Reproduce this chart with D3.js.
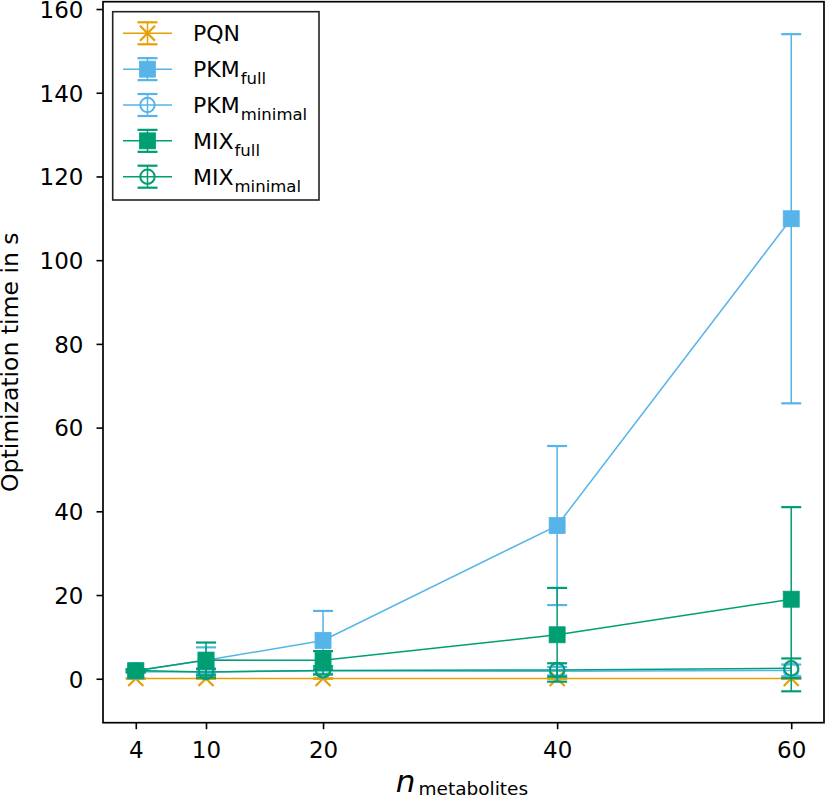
<!DOCTYPE html>
<html><head><meta charset="utf-8">
<script src="https://cdn.jsdelivr.net/npm/d3@7"></script>
<style>
body{margin:0;background:#fff}
svg{display:block}
text{font-family:"DejaVu Sans",sans-serif;fill:#000}
</style>
</head><body>
<svg id="chart" width="825" height="798"></svg>
<script>
// ---- data ----
const xValues = [4, 10, 20, 40, 60];
const xTicks = [4, 10, 20, 40, 60];
const yTicks = [0, 20, 40, 60, 80, 100, 120, 140, 160];

const pqnMean = [0.05, 0.05, 0.05, 0.05, 0.05];
const pqnErr  = [0.02, 0.02, 0.02, 0.02, 0.02];
const pkmFullMean = [1.9, 4.4, 9.15, 36.6, 109.9];
const pkmFullErr  = [0.3, 3.1, 7.05, 19.0, 44.1];
const pkmMinMean = [1.7, 1.6, 1.9, 1.8, 2.0];
const pkmMinErr  = [0.3, 0.6, 0.7, 1.0, 1.4];
const mixFullMean = [1.9, 4.45, 4.4, 10.5, 19.0];
const mixFullErr  = [0.3, 4.2, 2.2, 11.2, 22.0];
const mixMinMean = [2.0, 1.6, 2.0, 2.1, 2.5];
const mixMinErr  = [0.3, 0.8, 1.0, 1.6, 2.35];

const seriesBase = ["PQN", "PKM", "PKM", "MIX", "MIX"];
const seriesSub  = ["", "full", "minimal", "full", "minimal"];
const seriesColor = ["#E69F00", "#56B4E9", "#56B4E9", "#009E73", "#009E73"];
const seriesMarker = ["x", "square", "circle", "square", "circle"];
const seriesMeans = [pqnMean, pkmFullMean, pkmMinMean, mixFullMean, mixMinMean];
const seriesErrs = [pqnErr, pkmFullErr, pkmMinErr, mixFullErr, mixMinErr];

const xLabelMain = "n";
const xLabelSub = "metabolites";
const yLabel = "Optimization time in s";

// ---- layout ----
const L = 103, R = 824, T = 1.7, B = 722.7;
const x = d3.scaleLinear().domain([1.2, 62.8]).range([L, R]);
const y = d3.scaleLinear().domain([-10.5, 161.75]).range([B, T]);

const svg = d3.select("#chart");

const series = seriesBase.map((b, i) => ({
  base: b, sub: seriesSub[i], color: seriesColor[i], marker: seriesMarker[i],
  pts: xValues.map((xv, j) => ({x: xv, y: seriesMeans[i][j], e: seriesErrs[i][j]}))
}));

function drawMarker(g, type, cx, cy, color) {
  if (type === "square") {
    g.append("rect").attr("x", cx - 8).attr("y", cy - 8).attr("width", 16).attr("height", 16)
      .attr("fill", color).attr("stroke", color).attr("stroke-width", 0.8);
  } else if (type === "circle") {
    g.append("circle").attr("cx", cx).attr("cy", cy).attr("r", 7.2)
      .attr("fill", "none").attr("stroke", color).attr("stroke-width", 2);
  } else {
    const s = 7.5;
    g.append("path").attr("d", `M${cx-s},${cy-s}L${cx+s},${cy+s}M${cx-s},${cy+s}L${cx+s},${cy-s}`)
      .attr("stroke", color).attr("stroke-width", 2.2).attr("fill", "none");
  }
}

const plot = svg.append("g");
const line = d3.line().x(d => x(d.x)).y(d => y(d.y));

series.forEach(s => {
  const g = plot.append("g");
  s.pts.forEach(p => {
    const cx = x(p.x), y1 = y(p.y + p.e), y2 = y(p.y - p.e);
    g.append("line").attr("x1", cx).attr("x2", cx).attr("y1", y1).attr("y2", y2)
      .attr("stroke", s.color).attr("stroke-width", 1.5);
    [y1, y2].forEach(yy => g.append("line").attr("x1", cx - 10).attr("x2", cx + 10)
      .attr("y1", yy).attr("y2", yy).attr("stroke", s.color).attr("stroke-width", 2.2));
  });
  g.append("path").datum(s.pts).attr("d", line).attr("fill", "none")
    .attr("stroke", s.color).attr("stroke-width", 1.5);
  s.pts.forEach(p => drawMarker(g, s.marker, x(p.x), y(p.y), s.color));
});

// axes
const TF = 23;
const yAxis = d3.axisLeft(y).tickValues(yTicks).tickSize(6.5).tickPadding(13).tickFormat(d3.format("d"));
const gy = svg.append("g").attr("transform", `translate(${L},0)`).call(yAxis);
gy.select(".domain").remove();
gy.selectAll(".tick line").attr("stroke", "#000").attr("stroke-width", 1.6);
gy.selectAll(".tick text").attr("font-size", TF).attr("dy", "0.36em").attr("fill", "#000")
  .attr("font-family", "DejaVu Sans");

const xAxis = d3.axisBottom(x).tickValues(xTicks).tickSize(6.5).tickPadding(12.8).tickFormat(d3.format("d"));
const gx = svg.append("g").attr("transform", `translate(0,${B})`).call(xAxis);
gx.select(".domain").remove();
gx.selectAll(".tick line").attr("stroke", "#000").attr("stroke-width", 1.6);
gx.selectAll(".tick text").attr("font-size", TF).attr("fill", "#000").attr("font-family", "DejaVu Sans");

// frame
svg.append("rect").attr("x", L).attr("y", T).attr("width", R - L).attr("height", B - T)
  .attr("fill", "none").attr("stroke", "#000").attr("stroke-width", 1.7);

// axis labels
svg.append("text").attr("transform", `translate(18,${(T + B) / 2}) rotate(-90)`)
  .attr("text-anchor", "middle").attr("font-size", 23.5).text(yLabel);

const xl = svg.append("text").attr("x", 462).attr("y", 792).attr("text-anchor", "middle");
xl.append("tspan").attr("font-size", 31).attr("font-style", "italic").text(xLabelMain);
xl.append("tspan").attr("font-size", 18.5).attr("dy", 3.4).attr("dx", 3).text(xLabelSub);

// legend
const lg = svg.append("g");
lg.append("rect").attr("x", 112.7).attr("y", 11.7).attr("width", 206.3).attr("height", 188.3)
  .attr("fill", "#fff").attr("stroke", "#222").attr("stroke-width", 1.6);
series.forEach((s, i) => {
  const cy = 33.3 + i * 35.85;
  const g = lg.append("g");
  g.append("line").attr("x1", 123).attr("x2", 172).attr("y1", cy).attr("y2", cy)
    .attr("stroke", s.color).attr("stroke-width", 1.5);
  g.append("line").attr("x1", 147.5).attr("x2", 147.5).attr("y1", cy - 11).attr("y2", cy + 11)
    .attr("stroke", s.color).attr("stroke-width", 1.5);
  [cy - 11, cy + 11].forEach(yy => g.append("line").attr("x1", 137.5).attr("x2", 157.5)
    .attr("y1", yy).attr("y2", yy).attr("stroke", s.color).attr("stroke-width", 2.2));
  drawMarker(g, s.marker, 147.5, cy, s.color);
  const t = g.append("text").attr("x", 193).attr("y", cy + 8).attr("font-size", 22);
  t.append("tspan").text(s.base);
  if (s.sub) t.append("tspan").attr("font-size", 16.5).attr("dy", 7).attr("dx", 1).text(s.sub);
});
</script>
</body></html>
